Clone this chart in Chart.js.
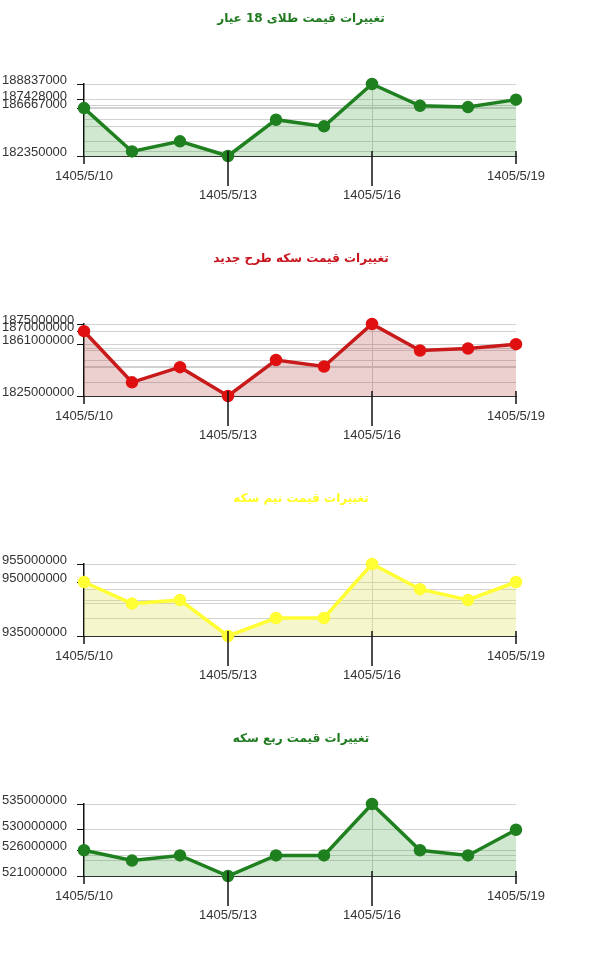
<!DOCTYPE html>
<html>
<head>
<meta charset="utf-8">
<script src="https://cdn.jsdelivr.net/npm/chart.js@4/dist/chart.umd.min.js"></script>
<style>
  body { margin: 0; background: #fff; }
  .box { width: 600px; height: 240px; position: relative; }
</style>
</head>
<body>
<div class="box"><canvas id="c1"></canvas></div>
<div class="box"><canvas id="c2"></canvas></div>
<div class="box"><canvas id="c3"></canvas></div>
<div class="box"><canvas id="c4"></canvas></div>
<script>
const dates = ['1405/5/10', '1405/5/11', '1405/5/12', '1405/5/13', '1405/5/14',
  '1405/5/15', '1405/5/16', '1405/5/17', '1405/5/18', '1405/5/19'];
const shownDates = ['1405/5/10', '1405/5/13', '1405/5/16', '1405/5/19'];
const loweredDates = ['1405/5/13', '1405/5/16'];

const gold18 = [186667000, 182760000, 183670000, 182350000, 185620000,
  185020000, 188837000, 186880000, 186760000, 187428000];
const gold18Ticks = [182350000, 186667000, 187428000, 188837000];

const coinNew = [1870000000, 1834500000, 1845000000, 1825000000, 1850000000,
  1845500000, 1875000000, 1856600000, 1858000000, 1861000000];
const coinNewTicks = [1825000000, 1861000000, 1870000000, 1875000000];

const halfCoin = [950000000, 944000000, 945000000, 935000000, 940000000,
  940000000, 955000000, 948000000, 945000000, 950000000];
const halfCoinTicks = [935000000, 950000000, 955000000];

const quarterCoin = [526000000, 524000000, 525000000, 521000000, 525000000,
  525000000, 535000000, 526000000, 525000000, 530000000];
const quarterCoinTicks = [521000000, 526000000, 530000000, 535000000];

const tickFont = { family: "'Liberation Sans', Arial, sans-serif", size: 13 };

// long/short tick marks under the x axis
const dateTicks = {
  id: 'dateTicks',
  afterDraw(chart) {
    const x = chart.scales.x, area = chart.chartArea, ctx = chart.ctx;
    ctx.save();
    ctx.strokeStyle = '#111';
    ctx.lineWidth = 1.5;
    dates.forEach((d, i) => {
      if (!shownDates.includes(d)) return;
      const px = x.getPixelForValue(i);
      const len = loweredDates.includes(d) ? 30 : 8;
      ctx.beginPath();
      ctx.moveTo(px, area.bottom - (i === 0 ? 0 : 5));
      ctx.lineTo(px, area.bottom + len);
      ctx.stroke();
    });
    ctx.restore();
  }
};

function makeChart(id, title, titleColor, values, labelTicks, lineColor, pointColor, fillColor) {
  const lo = Math.min(...values), hi = Math.max(...values);
  return new Chart(document.getElementById(id), {
    type: 'line',
    data: {
      labels: dates,
      datasets: [{
        data: values,
        borderColor: lineColor,
        backgroundColor: fillColor,
        pointBackgroundColor: pointColor,
        pointBorderColor: pointColor,
        pointRadius: 4.5,
        borderWidth: 3.5,
        tension: 0,
        clip: false,
        fill: 'start'
      }]
    },
    options: {
      responsive: true,
      maintainAspectRatio: false,
      animation: false,
      layout: { autoPadding: false, padding: { left: 2, right: 0, top: 0, bottom: 0 } },
      plugins: {
        legend: { display: false },
        tooltip: { enabled: false },
        title: {
          display: true,
          text: title,
          color: titleColor,
          font: { family: "'DejaVu Sans', sans-serif", size: 12, weight: 'bold' },
          padding: { top: 12, bottom: 57.6 }
        }
      },
      scales: {
        x: {
          afterFit: s => { s.height = 84; },
          border: { color: '#333', width: 1 },
          grid: {
            drawTicks: false,
            color: ctx => ctx.index === 6 ? '#d0d0d0' : 'rgba(0,0,0,0)'
          },
          ticks: {
            autoSkip: false,
            maxRotation: 0,
            padding: 10.5,
            color: '#333',
            font: { ...tickFont, lineHeight: 1.5 },
            callback: (v, i) => {
              const d = dates[i];
              if (!shownDates.includes(d)) return '';
              return loweredDates.includes(d) ? ['', d] : d;
            }
          }
        },
        y: {
          min: lo,
          max: hi,
          afterFit: s => { s.width = 82; },
          afterBuildTicks: s => {
            const vals = [...new Set(values.concat(labelTicks))].sort((a, b) => a - b);
            s.ticks = vals.map(v => ({ value: v }));
          },
          border: { color: '#111', width: 1.5 },
          grid: {
            color: '#d2d2d2',
            tickLength: 7,
            tickColor: ctx => labelTicks.includes(ctx.tick.value) ? '#111' : 'rgba(0,0,0,0)'
          },
          ticks: {
            autoSkip: false,
            crossAlign: 'far',
            padding: 4,
            labelOffset: -3.5,
            color: '#333',
            font: tickFont,
            callback: v => labelTicks.includes(v) ? String(v) : ''
          }
        },
        // empty right-hand axis that only reserves the right margin
        yRight: {
          position: 'right',
          afterFit: s => { s.width = 84; },
          grid: { display: false },
          border: { display: false },
          ticks: { display: false }
        }
      }
    },
    plugins: [dateTicks]
  });
}

makeChart('c1', 'تغییرات قیمت طلای 18 عیار', '#1f7a1f', gold18, gold18Ticks,
  '#1f801f', '#1f801f', 'rgba(40,150,40,0.22)');
makeChart('c2', 'تغییرات قیمت سکه طرح جدید', '#c8141c', coinNew, coinNewTicks,
  '#c81a1a', '#e01010', 'rgba(170,40,40,0.22)');
makeChart('c3', 'تغییرات قیمت نیم سکه', '#ffff22', halfCoin, halfCoinTicks,
  '#ffff33', '#ffff33', 'rgba(225,225,90,0.3)');
makeChart('c4', 'تغییرات قیمت ربع سکه', '#1f7a1f', quarterCoin, quarterCoinTicks,
  '#1f801f', '#1f801f', 'rgba(40,150,40,0.22)');
</script>
</body>
</html>
